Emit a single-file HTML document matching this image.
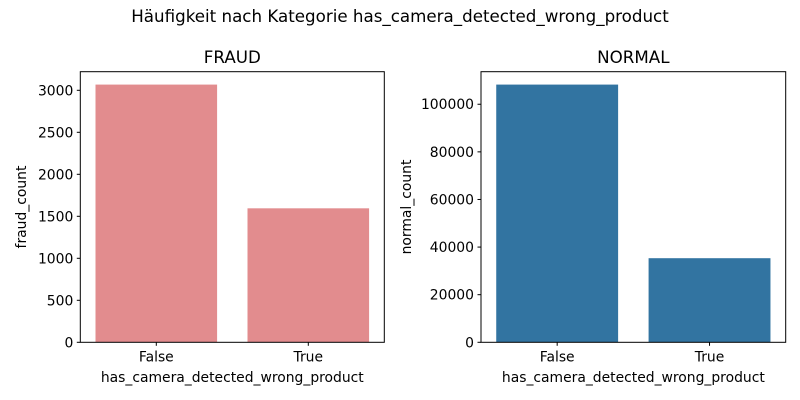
<!DOCTYPE html>
<html><head><meta charset="utf-8"><style>
body{margin:0;background:#fff}
svg{display:block;font-family:"DejaVu Sans","Liberation Sans",sans-serif}
</style></head><body>
<svg id="c" width="800" height="400" viewBox="0 0 800 400">
<text x="400" y="22" text-anchor="middle" font-size="16.7" fill="#000">Häufigkeit nach Kategorie has_camera_detected_wrong_product</text>
</svg>
<script>
const categories = ["False","True"];
const fraudValues = [3068, 1595];
const normalValues = [108260, 35330];
const fraudTicks = [0,500,1000,1500,2000,2500,3000];
const normalTicks = [0,20000,40000,60000,80000,100000];

const svg = document.getElementById('c');
const NS = 'http://www.w3.org/2000/svg';
function mk(tag, attrs, parent){const e=document.createElementNS(NS,tag);for(const k in attrs)e.setAttribute(k,attrs[k]);(parent||svg).appendChild(e);return e;}

function panel(name, x0, x1, title, ylabel, values, ticks, color){
  const y0=342.3, yTop=71.7;
  const ymax=Math.max(...values)*1.05;
  const ys=v=>y0-(v/ymax)*(y0-yTop);
  const bw=(x1-x0)/categories.length;
  const xs=i=>x0+bw*(i+0.5);
  const g=mk('g',{});
  
  
  values.forEach((v,i)=>{
    const r=mk('rect',{x:xs(i)-bw*0.4,y:ys(v),width:bw*0.8,height:y0-ys(v),fill:color},g);
    
    
  });
  const f=mk('rect',{x:x0,y:yTop,width:x1-x0,height:y0-yTop,fill:'none',stroke:'#000','stroke-width':1},g);
  
  
  ticks.forEach(t=>{
    const y=ys(t);
    mk('line',{x1:x0-3.5,x2:x0,y1:y,y2:y,stroke:'#000'},g);
    const tx=mk('text',{x:x0-7,y:y+5,'text-anchor':'end','font-size':13.9},g);
    tx.textContent=t;
    
    
  });
  categories.forEach((c,i)=>{
    const x=xs(i);
    mk('line',{x1:x,x2:x,y1:y0,y2:y0+3.5,stroke:'#000'},g);
    const tx=mk('text',{x:x,y:y0+19,'text-anchor':'middle','font-size':13.9},g);
    tx.textContent=c;
    
    
  });
  const xt=mk('text',{x:(x0+x1)/2,y:382,'text-anchor':'middle','font-size':13.9},g);
  xt.textContent='has_camera_detected_wrong_product';
  
  
  const yl=mk('text',{x:0,y:0,'text-anchor':'middle','font-size':13.9,transform:`translate(${name==='fraud'?26:411},${(y0+yTop)/2}) rotate(-90)`},g);
  yl.textContent=ylabel;
  
  
  const tt=mk('text',{x:(x0+x1)/2,y:63,'text-anchor':'middle','font-size':16.7},g);
  tt.textContent=title;
  
  
}
panel('fraud',80.3,384.3,'FRAUD','fraud_count',fraudValues,fraudTicks,'#e28c8e');
panel('normal',481,785.7,'NORMAL','normal_count',normalValues,normalTicks,'#3274a1');
</script>
</body></html>
